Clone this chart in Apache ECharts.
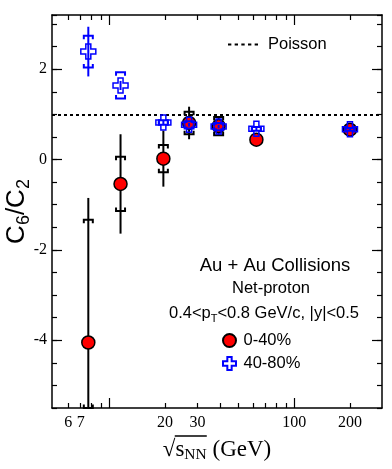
<!DOCTYPE html>
<html><head><meta charset="utf-8">
<script src="https://cdn.jsdelivr.net/npm/echarts@6/dist/echarts.min.js"></script>
<style>html,body{margin:0;padding:0;background:#fff}#c{width:392px;height:469px}</style>
</head><body><div id="c"></div>
<script>
// ---- data ----
const energies = [7.7, 11.5, 19.6, 27, 39, 62.4, 200];
const c6c2Central = [-4.05, -0.54, 0.02, 0.81, 0.74, 0.44, 0.66];
const statCentral = [3.2, 1.1, 0.62, 0.36, 0.2, 0.14, 0.05];
const sysCentral = [2.72, 0.6, 0.3, 0.25, 0.2, 0.06, 0.03];
const c6c2Peripheral = [2.39, 1.64, 0.82, 0.77, 0.73, 0.68, 0.67];
const statPeripheral = [0.55, 0.1, 0.06, 0.04, 0.04, 0.03, 0.02];
const sysPeripheral = [0.35, 0.29, 0.05, 0.08, 0.08, 0.04, 0.03];
const poissonLevel = 1;
const xLabelValues = [6, 7, 20, 30, 100, 200];
const xMinorTicks = [6, 7, 8, 9, 20, 30, 40, 50, 60, 70, 80, 90, 200];
const xMajorTicks = [10, 100];
const yLabelValues = [-4, -2, 0, 2];

const X_MIN = 4.9, X_MAX = 298, Y_MIN = -5.5, Y_MAX = 3.2;
const SERIF = '"Liberation Serif","DejaVu Serif",serif';
const SANS = '"Liberation Sans",Arial,sans-serif';

function errorBarRenderer(color) {
  return function (params, api) {
    const x = api.value(0), y = api.value(1), st = api.value(2), sy = api.value(3);
    const cs = params.coordSys;
    const top = cs.y, bot = cs.y + cs.height;
    const clampY = v => Math.max(top, Math.min(bot, v));
    const cx = api.coord([x, y])[0];
    const sHi = clampY(api.coord([x, y + st])[1]);
    const sLo = clampY(api.coord([x, y - st])[1]);
    const yHi = clampY(api.coord([x, y + sy])[1]);
    const yLo = clampY(api.coord([x, y - sy])[1]);
    const hw = 4.5, leg = 3.5;
    const style = { stroke: color, lineWidth: 2, fill: null };
    return {
      type: 'group', children: [
        { type: 'line', shape: { x1: cx, y1: sHi, x2: cx, y2: sLo }, style: style },
        { type: 'polyline', shape: { points: [[cx - hw, yHi + leg], [cx - hw, yHi], [cx + hw, yHi], [cx + hw, yHi + leg]] }, style: style },
        { type: 'polyline', shape: { points: [[cx - hw, yLo - leg], [cx - hw, yLo], [cx + hw, yLo], [cx + hw, yLo - leg]] }, style: style }
      ]
    };
  };
}

const crossPath = 'path://M5,0H10V5H15V10H10V15H5V10H0V5H5Z';
const dashPath = 'path://M0,0h3v2h-3z M6,0h3v2h-3z M12,0h3v2h-3z M18,0h3v2h-3z M24,0h3v2h-3z';

function xAx(position, ticks, tickLen, withLine, withLabels) {
  const ax = {
    type: 'log', logBase: 10, position: position, min: X_MIN, max: X_MAX,
    axisLine: { show: withLine, onZero: false, lineStyle: { color: '#000', width: 1.5 } },
    axisTick: { show: true, inside: true, length: tickLen, customValues: ticks, lineStyle: { color: '#000', width: 1.2 } },
    axisLabel: { show: false },
    splitLine: { show: false }, minorTick: { show: false }
  };
  if (withLabels) {
    ax.axisLabel = { show: true, customValues: xLabelValues, color: '#000', fontFamily: SERIF, fontSize: 16, margin: 7 };
    ax.name = '{g| }{ov| }\n{r|√}{s|s}{sub|NN}{t| (GeV)}';
    ax.nameLocation = 'middle';
    ax.nameGap = 27;
    ax.nameMoveOverlap = false;
    ax.nameTextStyle = {
      color: '#000', fontFamily: SERIF,
      rich: {
        g: { width: 12, fontSize: 2, lineHeight: 2, height: 1.5, align: 'left' },
        ov: { width: 32, fontSize: 2, lineHeight: 2, height: 1.5, backgroundColor: '#000', align: 'left' },
        r: { fontSize: 23, fontFamily: SERIF, color: '#000', align: 'left' },
        s: { fontSize: 23, fontFamily: SERIF, color: '#000', align: 'left' },
        sub: { fontSize: 15.5, fontFamily: SERIF, color: '#000', padding: [10, 0, 0, 0], align: 'left' },
        t: { fontSize: 23, fontFamily: SERIF, color: '#000', align: 'left' }
      }
    };
  }
  return ax;
}

function yAx(position, mode, withLine, withLabels) {
  const ax = {
    type: 'value', position: position, min: Y_MIN, max: Y_MAX,
    axisLine: { show: withLine, onZero: false, lineStyle: { color: '#000', width: 1.5 } },
    axisLabel: { show: false },
    splitLine: { show: false }
  };
  if (mode === 'minor') {
    ax.interval = 0.5;
    ax.axisTick = { show: true, inside: true, length: 5, lineStyle: { color: '#000', width: 1.2 } };
  } else {
    ax.axisTick = { show: true, inside: true, length: 10, customValues: yLabelValues, lineStyle: { color: '#000', width: 1.2 } };
  }
  if (withLabels) {
    ax.axisLabel = { show: true, customValues: yLabelValues, color: '#000', fontFamily: SERIF, fontSize: 16, margin: 5 };
    ax.name = '{c|C}{sub|6}{c|/C}{sub|2}';
    ax.nameLocation = 'middle';
    ax.nameRotate = 90;
    ax.nameGap = 19;
    ax.nameMoveOverlap = false;
    ax.nameTextStyle = {
      color: '#000',
      rich: {
        c: { fontSize: 26, fontFamily: SANS, color: '#000' },
        sub: { fontSize: 18, fontFamily: SANS, color: '#000', padding: [14, 0, 0, 0] }
      }
    };
  }
  return ax;
}

const chart = echarts.init(document.getElementById('c'), null, { renderer: 'canvas' });
chart.setOption({
  animation: false,
  backgroundColor: '#fff',
  grid: { left: 52, right: 10, top: 15, bottom: 61, containLabel: false, outerBoundsMode: 'none' },
  xAxis: [
    xAx('bottom', xMinorTicks, 5, true, true),
    xAx('bottom', xMajorTicks, 10, false, false),
    xAx('top', xMinorTicks, 5, true, false),
    xAx('top', xMajorTicks, 10, false, false)
  ],
  yAxis: [
    yAx('left', 'minor', true, true),
    yAx('left', 'major', false, false),
    yAx('right', 'minor', true, false),
    yAx('right', 'major', false, false)
  ],
  legend: [
    {
      data: [{ name: 'Poisson', icon: dashPath }], left: 228, top: 36, padding: 0, itemWidth: 30, itemHeight: 10,
      textStyle: { fontFamily: SANS, fontSize: 16.5, color: '#000', padding: [0, 0, 0, 5] },
      selectedMode: false
    },
    {
      data: ['0-40%', '40-80%'], orient: 'vertical', left: 222, top: 332, padding: 0,
      itemWidth: 18, itemHeight: 13, itemGap: 6,
      textStyle: { fontFamily: SANS, fontSize: 16.5, color: '#000' },
      selectedMode: false
    }
  ],
  graphic: [
    { type: 'text', x: 275, y: 266, style: { text: 'Au + Au Collisions', font: '18.5px ' + SANS, fill: '#000', align: 'center', verticalAlign: 'middle' } },
    { type: 'text', x: 271, y: 288, style: { text: 'Net-proton', font: '16.5px ' + SANS, fill: '#000', align: 'center', verticalAlign: 'middle' } },
    {
      type: 'text', x: 264, y: 313, style: {
        text: '{a|0.4<p}{s|T}{a|<0.8 GeV/c, |y|<0.5}', align: 'center', verticalAlign: 'middle',
        rich: {
          a: { fontSize: 16.5, fontFamily: SANS, fill: '#000', color: '#000' },
          s: { fontSize: 11, fontFamily: SANS, fill: '#000', color: '#000', padding: [12, 0, 0, 0] }
        }
      }
    }
  ],
  series: [
    {
      name: 'Poisson', type: 'line', data: [], z: 1,
      lineStyle: { color: '#000', width: 2, type: [3, 3] },
      itemStyle: { color: '#000' }, symbol: 'none',
      markLine: {
        silent: true, symbol: ['none', 'none'], label: { show: false },
        lineStyle: { color: '#000', width: 2, type: [3, 3] },
        data: [{ yAxis: poissonLevel }]
      }
    },
    {
      name: 'err0-40', type: 'custom', z: 2,
      renderItem: errorBarRenderer('#000'),
      encode: { x: 0, y: 1 },
      data: energies.map((e, i) => [e, c6c2Central[i], statCentral[i], sysCentral[i]])
    },
    {
      name: '0-40%', type: 'scatter', z: 3, symbol: 'circle', symbolSize: 13,
      itemStyle: { color: '#ff0000', borderColor: '#000', borderWidth: 1.5, opacity: 1 },
      data: energies.map((e, i) => [e, c6c2Central[i]])
    },
    {
      name: 'err40-80', type: 'custom', z: 4,
      renderItem: errorBarRenderer('#0000ff'),
      encode: { x: 0, y: 1 },
      data: energies.map((e, i) => [e, c6c2Peripheral[i], statPeripheral[i], sysPeripheral[i]])
    },
    {
      name: '40-80%', type: 'scatter', z: 5, symbol: crossPath, symbolSize: 15,
      itemStyle: { color: 'rgba(255,255,255,0)', borderColor: '#0000ff', borderWidth: 1.5, opacity: 1 },
      data: energies.map((e, i) => [e, c6c2Peripheral[i]])
    }
  ]
});
</script>
</body></html>
